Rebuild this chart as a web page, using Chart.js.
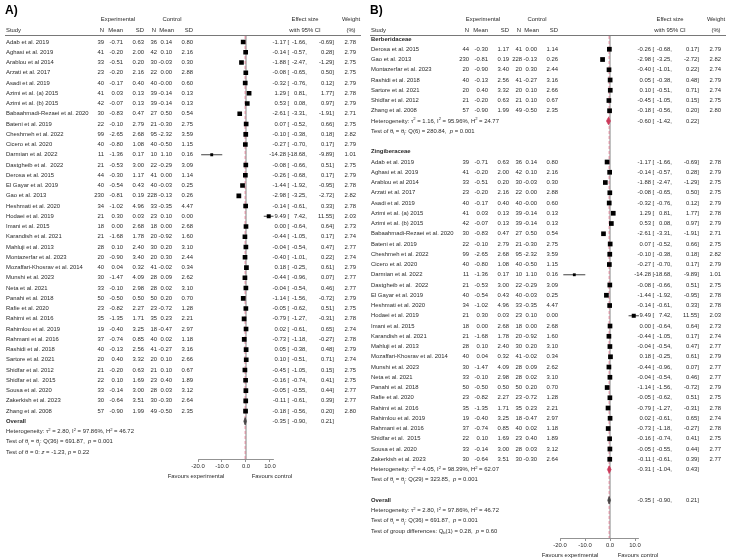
<!DOCTYPE html>
<html>
<head>
<meta charset="utf-8">
<script src="https://cdn.jsdelivr.net/npm/chart.js@4.4.1/dist/chart.umd.min.js"></script>
<style>
body { margin: 0; background: #fff; }
#wrap { position: relative; width: 730px; height: 559px; }
canvas { position: absolute; top: 0; }
</style>
</head>
<body>
<div id="wrap">
  <canvas id="panelA" width="365" height="559" style="left:0"></canvas>
  <canvas id="panelB" width="365" height="559" style="left:365px"></canvas>
</div>
<script>
// study level data
var studies = ["Adab et al. 2019", "Aghasi et al. 2019", "Arablou et al 2014", "Arzati et al. 2017", "Asadi et al. 2019",
    "Azimi et al. (a) 2015", "Azimi et al. (b) 2015", "Babaahmadi-Rezaei et al. 2020", "Bateni et al. 2019", "Cheshmeh et al. 2022",
    "Cicero et al. 2020", "Darmian et al. 2022", "Dastgheib et al.  2022", "Derosa et al. 2015", "El Gayar et al. 2019",
    "Gao et al. 2013", "Heshmati et al. 2020", "Hodaei et al. 2019", "Imani et al. 2015", "Karandish et al. 2021",
    "Mahluji et al. 2013", "Montazerfar et al. 2023", "Mozaffari-Khosrav et al. 2014", "Munshi et al. 2023", "Neta et al. 2021",
    "Panahi et al. 2018", "Rafie et al. 2020", "Rahimi et al. 2016", "Rahimlou et al. 2019", "Rahmani et al. 2016",
    "Rashidi et al. 2018", "Sartore et al. 2021", "Shidfar et al. 2012", "Shidfar et al.  2015", "Sousa et al. 2020",
    "Zakerkish et al. 2023", "Zhang et al. 2008"];
var expN = [39, 41, 33, 23, 40, 41, 42, 30, 22, 99, 40, 11, 21, 44, 40, 230, 34, 21, 18, 21, 28, 20, 40, 30, 33, 50, 23, 35, 19, 37, 40, 20, 21, 22, 33, 30, 57];
var expMean = [-0.71, -0.20, -0.51, -0.20, -0.17, 0.03, -0.07, -0.83, -0.10, -2.65, -0.80, -1.36, -0.53, -0.30, -0.54, -0.81, -1.02, 0.30, 0.00, -1.68, 0.10, -0.90, 0.04, -1.47, -0.10, -0.50, -0.82, -1.35, -0.40, -0.74, -0.13, 0.40, -0.20, 0.10, -0.14, -0.64, -0.90];
var expSD = [0.63, 2.00, 0.20, 2.16, 0.40, 0.13, 0.13, 0.47, 2.79, 2.68, 1.08, 0.17, 3.00, 1.17, 0.43, 0.19, 4.96, 0.03, 2.68, 1.78, 2.40, 3.40, 0.32, 4.09, 2.98, 0.50, 2.27, 1.71, 3.25, 0.85, 2.56, 3.32, 0.63, 1.69, 3.00, 3.51, 1.99];
var ctlN = [36, 42, 30, 22, 40, 39, 39, 27, 21, 95, 40, 10, 22, 41, 40, 228, 33, 23, 18, 20, 30, 20, 41, 28, 28, 50, 23, 35, 18, 40, 41, 20, 21, 23, 28, 30, 49];
var ctlMean = [0.14, 0.10, -0.03, 0.00, -0, -0.14, -0.14, 0.50, -0.30, -2.32, -0.50, 1.10, -0.29, 0.00, -0.03, -0.13, -0.35, 0.10, 0.00, -0.92, 0.20, 0.30, -0.02, 0.09, 0.02, 0.20, -0.72, 0.23, -0.47, 0.02, -0.27, 0.10, 0.10, 0.40, 0.03, -0.30, -0.50];
var ctlSD = [0.80, 2.16, 0.30, 2.88, 0.60, 0.13, 0.13, 0.54, 2.75, 3.59, 1.15, 0.16, 3.09, 1.14, 0.25, 0.26, 4.47, 0.00, 2.68, 1.60, 3.10, 2.44, 0.34, 2.62, 3.10, 0.70, 1.28, 2.21, 2.97, 1.18, 3.16, 2.66, 0.67, 1.89, 3.12, 2.64, 2.35];
var effect = [-1.17, -0.14, -1.88, -0.08, -0.32, 1.29, 0.53, -2.61, 0.07, -0.10, -0.27, -14.28, -0.08, -0.26, -1.44, -2.98, -0.14, 9.49, 0.00, -0.44, -0.04, -0.40, 0.18, -0.44, -0.04, -1.14, -0.05, -0.79, 0.02, -0.73, 0.05, 0.10, -0.45, -0.16, -0.05, -0.11, -0.18];
var ciLow = [-1.66, -0.57, -2.47, -0.65, -0.76, 0.81, 0.08, -3.31, -0.52, -0.38, -0.70, -18.68, -0.66, -0.68, -1.92, -3.25, -0.61, 7.42, -0.64, -1.05, -0.54, -1.01, -0.25, -0.96, -0.54, -1.56, -0.62, -1.27, -0.61, -1.18, -0.38, -0.51, -1.05, -0.74, -0.55, -0.61, -0.56];
var ciHigh = [-0.69, 0.28, -1.29, 0.50, 0.12, 1.77, 0.97, -1.91, 0.66, 0.18, 0.17, -9.89, 0.51, 0.17, -0.95, -2.72, 0.33, 11.55, 0.64, 0.17, 0.47, 0.22, 0.61, 0.07, 0.46, -0.72, 0.51, -0.31, 0.65, -0.27, 0.48, 0.71, 0.15, 0.41, 0.44, 0.39, 0.20];
var weight = [2.78, 2.79, 2.75, 2.75, 2.79, 2.78, 2.79, 2.71, 2.75, 2.82, 2.79, 1.01, 2.75, 2.79, 2.78, 2.82, 2.78, 2.03, 2.73, 2.74, 2.77, 2.74, 2.79, 2.77, 2.77, 2.79, 2.75, 2.78, 2.74, 2.78, 2.79, 2.74, 2.75, 2.75, 2.77, 2.77, 2.80];
var family = [1, 1, 1, 1, 1, 1, 1, 1, 1, 1, 1, 1, 1, 0, 1, 0, 1, 1, 1, 1, 1, 0, 1, 1, 1, 1, 1, 1, 1, 1, 0, 0, 0, 1, 1, 1, 0];

// subgroup and overall summaries
var groupNames = ["Berberidaceae", "Zingiberaceae"];
var groupEffect = [-0.60, -0.31];
var groupLow = [-1.42, -1.04];
var groupHigh = [0.22, 0.43];
var groupTau2 = ["1.16", "4.05"];
var groupI2 = ["95.96", "98.39"];
var groupH2 = ["24.77", "62.07"];
var groupQ = ["Q(6) = 280.84", "Q(29) = 323.85"];
var groupP = ["0.001", "0.001"];
var overallEffect = -0.35;
var overallCI = [-0.90, 0.21];
var overallHet = ["2.80", "97.86", "46.72"];
var overallQ = ["Q(36) = 691.87", "0.001"];
var overallZ = ["-1.23", "0.22"];
var groupDiff = ["0.28", "0.60"];
var xTicks = [-20, -10, 0, 10];

var FAM = '"Liberation Sans", Arial, sans-serif';
var FS = 5.9;
var TXT = "#2a2a2a";
var RED = "#cc3a5a";
var GREY = "#444";

function fnt(size, bold, italic) {
    return (italic ? "italic " : "") + (bold ? "bold " : "") + size + "px " + FAM;
}
function fmt(v) {
    return (Object.is(v, -0) ? "-" : "") + v.toFixed(2);
}

function rich(ctx, x, y, segs) {
    var cx = x;
    ctx.textAlign = "left";
    segs.forEach(function (s) {
        ctx.font = fnt(s.sub || s.sup ? FS * 0.7 : FS, s.b, s.i);
        ctx.fillText(s.t, cx, y + (s.sub ? FS * 0.3 : s.sup ? -FS * 0.35 : 0));
        cx += ctx.measureText(s.t).width;
    });
}

function hetSegs(t, i, h) {
    return [{ t: "Heterogeneity: τ" }, { t: "2", sup: true }, { t: " = " + t + ", I" }, { t: "2", sup: true },
        { t: " = " + i + "%, H" }, { t: "2", sup: true }, { t: " = " + h }];
}
function qSegs(q, p) {
    return [{ t: "Test of θ" }, { t: "i", sub: true }, { t: " = θ" }, { t: "j", sub: true },
        { t: ": " + q + ",  " }, { t: "p", i: true }, { t: " = " + p }];
}

// rows for panel A
var rowsA = [];
studies.forEach(function (s, i) { rowsA.push({ kind: "study", i: i }); });
rowsA.push({ kind: "pool", segs: [{ t: "Overall", b: true }], es: overallEffect, lo: overallCI[0], hi: overallCI[1], color: GREY });
rowsA.push({ kind: "text", segs: hetSegs(overallHet[0], overallHet[1], overallHet[2]) });
rowsA.push({ kind: "text", segs: qSegs(overallQ[0], overallQ[1]) });
rowsA.push({ kind: "text", segs: [{ t: "Test of θ = 0: " }, { t: "z", i: true }, { t: " = " + overallZ[0] + ", " }, { t: "p", i: true }, { t: " = " + overallZ[1] }] });

// rows for panel B
var rowsB = [];
groupNames.forEach(function (g, gi) {
    rowsB.push({ kind: "text", segs: [{ t: g, b: true }] });
    studies.forEach(function (s, i) { if (family[i] === gi) rowsB.push({ kind: "study", i: i }); });
    rowsB.push({ kind: "pool", segs: hetSegs(groupTau2[gi], groupI2[gi], groupH2[gi]), es: groupEffect[gi], lo: groupLow[gi], hi: groupHigh[gi], color: RED });
    rowsB.push({ kind: "text", segs: qSegs(groupQ[gi], groupP[gi]) });
    rowsB.push({ kind: "blank" });
});
rowsB.push({ kind: "pool", segs: [{ t: "Overall", b: true }], es: overallEffect, lo: overallCI[0], hi: overallCI[1], color: GREY });
rowsB.push({ kind: "text", segs: hetSegs(overallHet[0], overallHet[1], overallHet[2]) });
rowsB.push({ kind: "text", segs: qSegs(overallQ[0], overallQ[1]) });
rowsB.push({ kind: "text", segs: [{ t: "Test of group differences: Q" }, { t: "b", sub: true }, { t: "(1) = " + groupDiff[0] + ",  " }, { t: "p", i: true }, { t: " = " + groupDiff[1] }] });

function buildPanel(id, title, rows, lay) {
    var squares = [], radii = [], datasets = [];
    var ymin = lay.ymin, ymax = lay.ymax;

    rows.forEach(function (r, y) {
        if (r.kind === "study") {
            squares.push({ x: effect[r.i], y: y });
            radii.push(2 * Math.sqrt(weight[r.i]));
        }
    });
    datasets.push({ type: "scatter", data: squares, pointStyle: "rect", pointRadius: radii,
        backgroundColor: "#000", borderWidth: 0, order: 0 });

    rows.forEach(function (r, y) {
        if (r.kind === "study") {
            datasets.push({ type: "line", data: [{ x: ciLow[r.i], y: y }, { x: ciHigh[r.i], y: y }],
                borderColor: "#111", borderWidth: 0.8, pointRadius: 0, order: 1 });
        }
        if (r.kind === "pool") {
            // diamond: upper and lower halves, the area between them filled
            datasets.push({ type: "line", data: [{ x: r.lo, y: y }, { x: r.es, y: y - 0.36 }, { x: r.hi, y: y }],
                borderColor: r.color, borderWidth: 0.8, pointRadius: 0, fill: false, order: 0 });
            datasets.push({ type: "line", data: [{ x: r.lo, y: y }, { x: r.es, y: y + 0.36 }, { x: r.hi, y: y }],
                borderColor: r.color, backgroundColor: r.color, borderWidth: 0.8, pointRadius: 0, fill: "-1", order: 0 });
        }
    });

    // no-effect line and overall effect line
    datasets.push({ type: "line", data: [{ x: 0, y: ymin }, { x: 0, y: ymax }],
        borderColor: "#b0b0b0", borderWidth: 0.8, pointRadius: 0, order: 3 });
    datasets.push({ type: "line", data: [{ x: overallEffect, y: ymin }, { x: overallEffect, y: ymax }],
        borderColor: "#de7a90", borderWidth: 0.9, borderDash: [3, 2], pointRadius: 0, order: 2 });

    var textPlugin = {
        id: "forestText" + id,
        afterDraw: function (chart) {
            var ctx = chart.ctx, ys = chart.scales.y, xs = chart.scales.x;
            ctx.save();
            ctx.fillStyle = "#000";
            ctx.textBaseline = "middle";
            ctx.font = fnt(12, true);
            ctx.textAlign = "left";
            ctx.fillText(title, 5, 11);

            // header
            ctx.fillStyle = TXT;
            ctx.font = fnt(FS);
            ctx.textAlign = "center";
            ctx.fillText("Experimental", 118, 19);
            ctx.fillText("Control", 172, 19);
            ctx.fillText("Effect size", 305, 19);
            ctx.fillText("with 95% CI", 305, 30);
            ctx.fillText("Weight", 351, 19);
            ctx.fillText("(%)", 351, 30);
            ctx.textAlign = "left";
            ctx.fillText("Study", 6, 30);
            ctx.textAlign = "right";
            ctx.fillText("N", 104, 30);
            ctx.fillText("Mean", 123, 30);
            ctx.fillText("SD", 144, 30);
            ctx.fillText("N", 156, 30);
            ctx.fillText("Mean", 174, 30);
            ctx.fillText("SD", 193, 30);
            ctx.strokeStyle = "#555";
            ctx.lineWidth = 0.8;
            ctx.beginPath();
            ctx.moveTo(5, 35.5);
            ctx.lineTo(361, 35.5);
            ctx.stroke();

            function ciText(py, es, lo, hi) {
                ctx.textAlign = "right";
                ctx.fillText(fmt(es), 286, py);
                ctx.textAlign = "left";
                ctx.fillText("[", 287.5, py);
                ctx.textAlign = "right";
                ctx.fillText(fmt(lo) + ",", 307, py);
                ctx.fillText(fmt(hi) + "]", 334, py);
            }

            rows.forEach(function (r, y) {
                var py = ys.getPixelForValue(y);
                ctx.font = fnt(FS);
                ctx.fillStyle = TXT;
                if (r.kind === "study") {
                    var i = r.i;
                    ctx.textAlign = "left";
                    ctx.fillText(studies[i], 6, py);
                    ctx.textAlign = "right";
                    ctx.fillText(expN[i], 104, py);
                    ctx.fillText(fmt(expMean[i]), 123, py);
                    ctx.fillText(fmt(expSD[i]), 144, py);
                    ctx.fillText(ctlN[i], 157, py);
                    ctx.fillText(fmt(ctlMean[i]), 172, py);
                    ctx.fillText(fmt(ctlSD[i]), 193, py);
                    ciText(py, effect[i], ciLow[i], ciHigh[i]);
                    ctx.fillText(weight[i].toFixed(2), 356, py);
                } else if (r.kind === "pool") {
                    rich(ctx, 6, py, r.segs);
                    ctx.font = fnt(FS);
                    ciText(py, r.es, r.lo, r.hi);
                } else if (r.kind === "text") {
                    rich(ctx, 6, py, r.segs);
                }
            });

            // axis captions
            var z = xs.getPixelForValue(0);
            ctx.font = fnt(FS);
            ctx.fillStyle = TXT;
            ctx.textAlign = "center";
            ctx.fillText("Favours experimental", z + lay.favL, chart.chartArea.bottom + 17);
            ctx.fillText("Favours control", z + lay.favR, chart.chartArea.bottom + 17);
            ctx.restore();
        }
    };

    return new Chart(document.getElementById(id), {
        type: "scatter",
        data: { datasets: datasets },
        options: {
            responsive: false,
            devicePixelRatio: 1,
            animation: false,
            layout: { padding: lay.pad },
            plugins: { legend: { display: false }, tooltip: { enabled: false } },
            scales: {
                x: {
                    type: "linear", position: "bottom", min: -20, max: 11.55, bounds: "data",
                    afterBuildTicks: function (ax) { ax.ticks = xTicks.map(function (v) { return { value: v }; }); },
                    afterFit: function (ax) { ax.height = 16; },
                    ticks: { callback: function (v) { return v.toFixed(1); }, font: { size: FS, family: FAM },
                        color: TXT, padding: 1, maxRotation: 0, autoSkip: false },
                    grid: { drawOnChartArea: false, drawTicks: true, tickLength: 3, color: "#777", lineWidth: 0.8 },
                    border: { display: true, color: "#777", width: 0.8 }
                },
                y: { type: "linear", display: false, reverse: true, min: ymin, max: ymax, bounds: "data" }
            }
        },
        plugins: [textPlugin]
    });
}

buildPanel("panelA", "A)", rowsA, {
    pad: { left: 198, right: 91.3, top: 36, bottom: 84 },
    ymin: -0.585, ymax: 40.68, favL: -50, favR: 26
});
buildPanel("panelB", "B)", rowsB, {
    pad: { left: 195, right: 91.1, top: 36, bottom: 5 },
    ymin: -0.293, ymax: 48.68, favL: -40, favR: 28
});
</script>
</body>
</html>
